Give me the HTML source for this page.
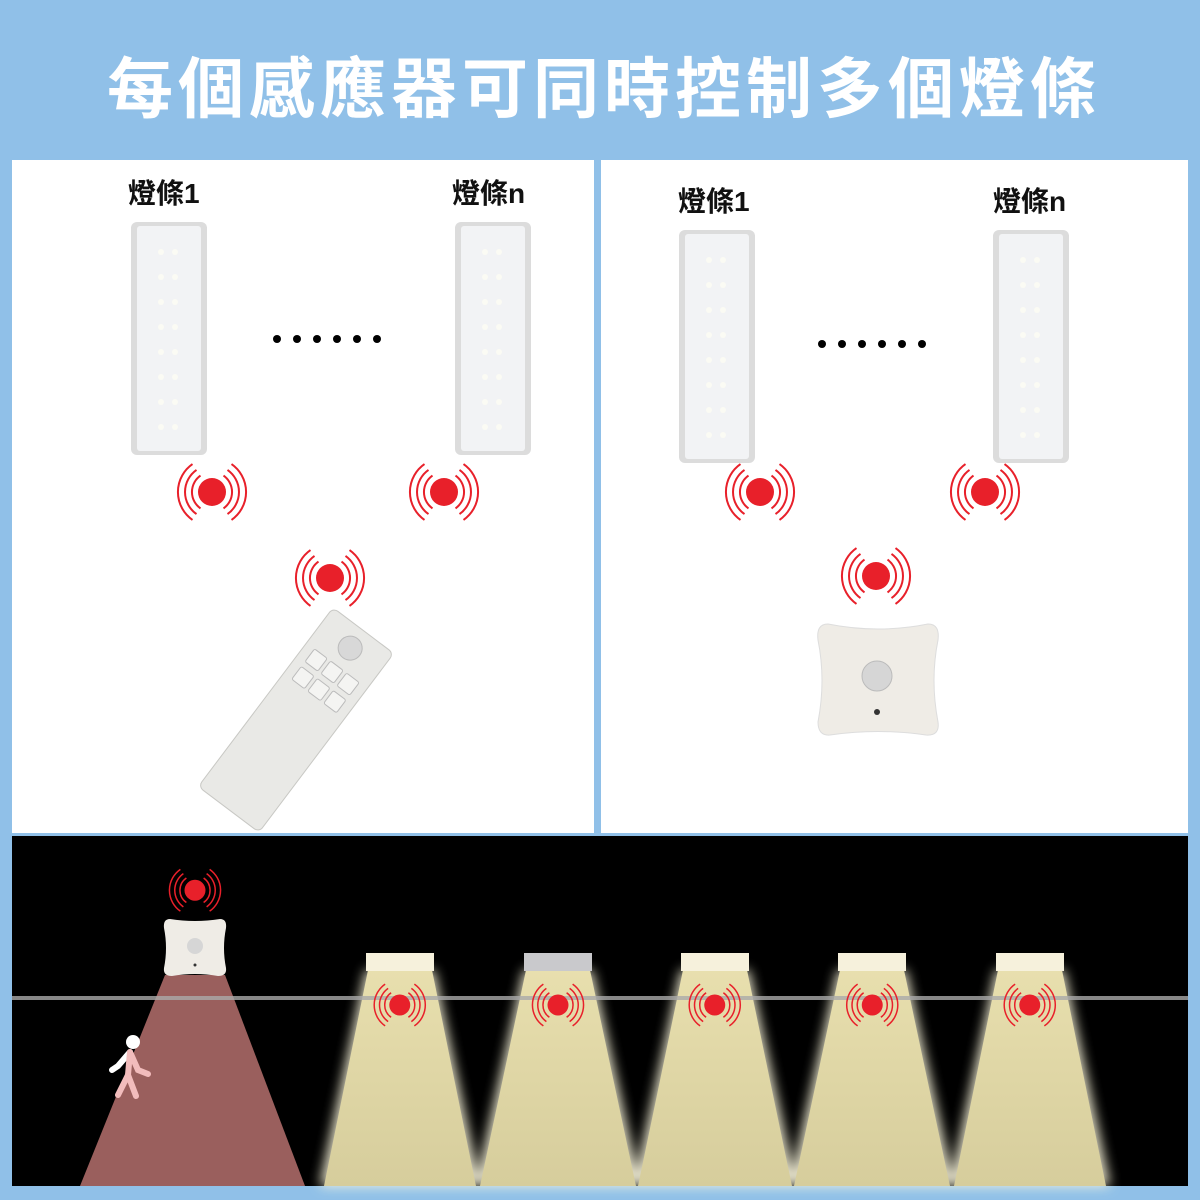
<!DOCTYPE html>
<html><head><meta charset="utf-8"><style>
html,body{margin:0;padding:0;background:#90c0e8;}
svg{display:block}
text{font-family:"Liberation Sans","Noto Sans CJK TC",sans-serif}
</style></head><body>
<svg width="1200" height="1200" viewBox="0 0 1200 1200" xmlns="http://www.w3.org/2000/svg">
<defs>
<g id="sig">
<circle r="14" fill="#e8202a"/>
<g fill="none" stroke="#e8202a" stroke-width="2">
<path d="M-11.5,-16.4 A20,20 0 0 0 -11.5,16.4"/><path d="M11.5,-16.4 A20,20 0 0 1 11.5,16.4"/>
<path d="M-15.5,-22.1 A27,27 0 0 0 -15.5,22.1"/><path d="M15.5,-22.1 A27,27 0 0 1 15.5,22.1"/>
<path d="M-19.5,-27.9 A34,34 0 0 0 -19.5,27.9"/><path d="M19.5,-27.9 A34,34 0 0 1 19.5,27.9"/>
</g>
</g>
<g id="bar">
<rect x="0" y="0" width="76" height="233" rx="6" fill="#dcdcdc"/>
<rect x="6" y="4" width="64" height="225" rx="3" fill="#f2f3f5"/>
<g fill="#fbfbf4">
<circle cx="30" cy="30" r="3"/><circle cx="44" cy="30" r="3"/>
<circle cx="30" cy="55" r="3"/><circle cx="44" cy="55" r="3"/>
<circle cx="30" cy="80" r="3"/><circle cx="44" cy="80" r="3"/>
<circle cx="30" cy="105" r="3"/><circle cx="44" cy="105" r="3"/>
<circle cx="30" cy="130" r="3"/><circle cx="44" cy="130" r="3"/>
<circle cx="30" cy="155" r="3"/><circle cx="44" cy="155" r="3"/>
<circle cx="30" cy="180" r="3"/><circle cx="44" cy="180" r="3"/>
<circle cx="30" cy="205" r="3"/><circle cx="44" cy="205" r="3"/>
</g>
</g>
<g id="dots" fill="#000">
<circle cx="0" cy="0" r="4"/><circle cx="20" cy="0" r="4"/><circle cx="40" cy="0" r="4"/><circle cx="60" cy="0" r="4"/><circle cx="80" cy="0" r="4"/><circle cx="100" cy="0" r="4"/>
</g>
<filter id="glow" x="-30%" y="-10%" width="160%" height="120%"><feGaussianBlur stdDeviation="6"/></filter>
<linearGradient id="cone" x1="0" y1="0" x2="0" y2="1"><stop offset="0" stop-color="#e8dfae"/><stop offset="1" stop-color="#d6cd9c"/></linearGradient>
</defs>
<rect width="1200" height="1200" fill="#90c0e8"/>
<text x="604" y="112" font-size="66" fill="#fff" text-anchor="middle" letter-spacing="5" font-weight="bold">每個感應器可同時控制多個燈條</text>
<rect x="12" y="160" width="582" height="673" fill="#fff"/>
<rect x="601" y="160" width="587" height="673" fill="#fff"/>
<!-- left panel -->
<text x="128" y="203" font-size="28" fill="#111" font-weight="bold">燈條1</text>
<text x="452" y="203" font-size="28" fill="#111" font-weight="bold">燈條n</text>
<use href="#bar" x="131" y="222"/>
<use href="#bar" x="455" y="222"/>
<use href="#dots" x="277" y="339"/>
<use href="#sig" x="212" y="492"/>
<use href="#sig" x="444" y="492"/>
<use href="#sig" x="330" y="578"/>
<g transform="translate(296,720) rotate(37)">
<rect x="-38" y="-112" width="76" height="224" rx="6" fill="#e9e9e6" stroke="#c8c8c4"/>
<circle cx="0" cy="-90" r="12" fill="#d8d8d8" stroke="#bbb"/>
<g fill="#f4f4f2" stroke="#bbb">
<rect x="-28" y="-68" width="16" height="16" rx="2"/><rect x="-8" y="-68" width="16" height="16" rx="2"/><rect x="12" y="-68" width="16" height="16" rx="2"/>
<rect x="-28" y="-46" width="16" height="16" rx="2"/><rect x="-8" y="-46" width="16" height="16" rx="2"/><rect x="12" y="-46" width="16" height="16" rx="2"/>
</g>
</g>
<!-- right panel -->
<text x="678" y="211" font-size="28" fill="#111" font-weight="bold">燈條1</text>
<text x="993" y="211" font-size="28" fill="#111" font-weight="bold">燈條n</text>
<use href="#bar" x="679" y="230"/>
<use href="#bar" x="993" y="230"/>
<use href="#dots" x="822" y="344"/>
<use href="#sig" x="760" y="492"/>
<use href="#sig" x="985" y="492"/>
<use href="#sig" x="876" y="576"/>
<path d="M828,624 Q878,634 928,624 Q940,624 938,640 Q930,680 938,722 Q940,736 926,735 Q878,728 830,735 Q818,736 818,722 Q826,680 818,640 Q816,624 828,624Z" fill="#efece6" stroke="#ddd"/>
<circle cx="877" cy="676" r="15" fill="#d6d6d6" stroke="#bbb"/>
<circle cx="877" cy="712" r="3" fill="#333"/>
<!-- bottom -->
<rect x="12" y="836" width="1176" height="350" fill="#000"/>
<polygon points="165,975 225,975 305,1186 80,1186" fill="#9a5f5d"/>
<g filter="url(#glow)" fill="#fffbe0" opacity="0.9">
<polygon points="366,970 434,970 480,1186 320,1186"/>
<polygon points="524,970 592,970 640,1186 476,1186"/>
<polygon points="681,970 749,970 796,1186 634,1186"/>
<polygon points="838,970 906,970 954,1186 790,1186"/>
<polygon points="996,970 1064,970 1110,1186 950,1186"/>
</g>
<g fill="url(#cone)">
<polygon points="368,970 432,970 476,1186 324,1186"/>
<polygon points="526,970 590,970 636,1186 480,1186"/>
<polygon points="683,970 747,970 792,1186 638,1186"/>
<polygon points="840,970 904,970 950,1186 794,1186"/>
<polygon points="998,970 1062,970 1106,1186 954,1186"/>
</g>
<rect x="12" y="996" width="1176" height="4" fill="#aaa" opacity="0.8"/>
<g fill="#f6f1dc">
<rect x="366" y="953" width="68" height="18"/>
<rect x="681" y="953" width="68" height="18"/>
<rect x="838" y="953" width="68" height="18"/>
<rect x="996" y="953" width="68" height="18"/>
</g>
<rect x="524" y="953" width="68" height="18" fill="#c9c9cc"/>
<g transform="scale(0.75)">
<use href="#sig" x="533" y="1340"/>
<use href="#sig" x="744" y="1340"/>
<use href="#sig" x="953" y="1340"/>
<use href="#sig" x="1163" y="1340"/>
<use href="#sig" x="1373" y="1340"/>
<use href="#sig" x="260" y="1187"/>
</g>
<path d="M170,919 Q195,923 220,919 Q227,919 226,928 Q222,948 226,968 Q227,976 218,976 Q195,972 172,976 Q163,976 164,968 Q168,948 164,928 Q163,919 170,919Z" fill="#efece6"/>
<circle cx="195" cy="946" r="8" fill="#d6d6d6"/>
<circle cx="195" cy="965" r="1.5" fill="#333"/>
<!-- person -->
<circle cx="133" cy="1042" r="7" fill="#fff"/>
<g stroke-linecap="round" stroke-width="6" fill="none">
<path d="M130,1052 L118,1066 L112,1070" stroke="#fff"/>
<path d="M130,1052 L138,1070 L148,1074 M130,1052 L128,1075 L136,1096" stroke="#f2bcbc"/>
<path d="M128,1075 L118,1095" stroke="#f2bcbc"/>
</g>
</svg>
</body></html>
